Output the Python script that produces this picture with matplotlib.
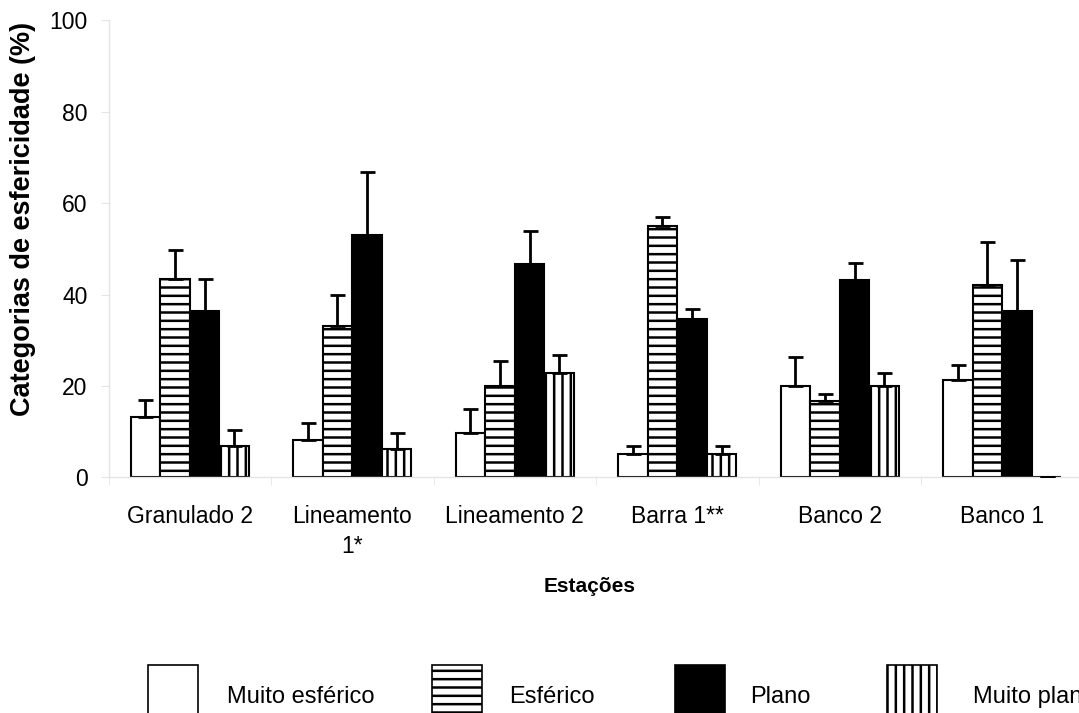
import numpy as np
import matplotlib.pyplot as plt
from matplotlib.patches import Rectangle

plt.rcParams['font.family'] = ['Liberation Sans', 'DejaVu Sans']
plt.rcParams['hatch.linewidth'] = 1.8

# stations (x categories)
estacoes = ["Granulado 2", "Lineamento\n1*", "Lineamento 2", "Barra 1**", "Banco 2", "Banco 1"]

# mean percentage per sphericity class
muito_esferico = [13.2, 8.1, 9.8, 5.2, 19.9, 21.2]
esferico = [43.3, 33.2, 20.0, 54.9, 16.6, 42.0]
plano = [36.4, 53.1, 46.6, 34.7, 43.2, 36.4]
muito_plano = [6.9, 6.1, 22.9, 5.2, 19.9, 0.0]

# upper error bars
err_muito_esferico = [3.8, 3.8, 5.1, 1.6, 6.4, 3.4]
err_esferico = [6.4, 6.7, 5.5, 2.0, 1.6, 9.4]
err_plano = [6.9, 13.6, 7.3, 2.2, 3.6, 11.1]
err_muito_plano = [3.4, 3.7, 3.9, 1.6, 3.0, 0.0]

series = [
    ("Muito esférico", muito_esferico, err_muito_esferico, "white", None),
    ("Esférico", esferico, err_esferico, "white", "--"),
    ("Plano", plano, err_plano, "black", None),
    ("Muito plano", muito_plano, err_muito_plano, "white", "||"),
]

W, H = 1079, 713
fig = plt.figure(figsize=(W / 100, H / 100), dpi=100)
ax = fig.add_axes([108.5 / W, (H - 477.3) / H, 975 / W, 457 / H])

x = np.arange(len(estacoes))
width = 0.182
for i, (name, vals, errs, color, hatch) in enumerate(series):
    pos = x + (i - 1.5) * width
    ax.bar(pos, vals, width, color=color, edgecolor="black", linewidth=1.5,
           hatch=hatch, zorder=2)
    ax.errorbar(pos, vals, yerr=[np.zeros(len(errs)), errs], fmt="none",
                ecolor="black", elinewidth=2, capsize=5.4, capthick=2, zorder=3)

ax.set_xlim(-0.5, len(estacoes) - 0.5)
ax.set_ylim(0, 100)
ax.set_yticks(np.arange(0, 101, 20))
ax.set_xticks(x)
ax.set_xticklabels(estacoes, linespacing=1.4)
ax.set_xticks(np.arange(-0.5, len(estacoes), 1), minor=True)

for s in ["top", "right"]:
    ax.spines[s].set_visible(False)
for s in ["left", "bottom"]:
    ax.spines[s].set_color("#e4e4e4")
    ax.spines[s].set_linewidth(1.0)

ax.tick_params(axis="y", length=6, color="#e4e4e4", labelsize=16.5, pad=9)
ax.tick_params(axis="x", which="major", length=0, labelsize=16.5, pad=20)
ax.tick_params(axis="x", which="minor", length=6, color="#e4e4e4")

fig.text(23 / W, 1 - 219 / H, "Categorias de esfericidade (%)", rotation=90,
         fontsize=19.5, fontweight="bold", ha="center", va="center")
fig.text(590 / W, 1 - 587 / H, "Estações", fontsize=15, fontweight="bold",
         ha="center", va="center")

# legend drawn along the bottom edge (partly cut off, as in the original)
patch_x = [148, 432, 675, 887]
text_x = [227, 509, 750, 973]
for (name, vals, errs, color, hatch), px, tx in zip(series, patch_x, text_x):
    r = Rectangle((px / W, 1 - 725 / H), 50 / W, 60 / H, transform=fig.transFigure,
                  facecolor=color, edgecolor="black", linewidth=1.2, hatch=hatch)
    fig.add_artist(r)
    fig.text(tx / W, 1 - 697 / H, name, fontsize=17, ha="left", va="center")

fig.savefig("out.png", dpi=100)
